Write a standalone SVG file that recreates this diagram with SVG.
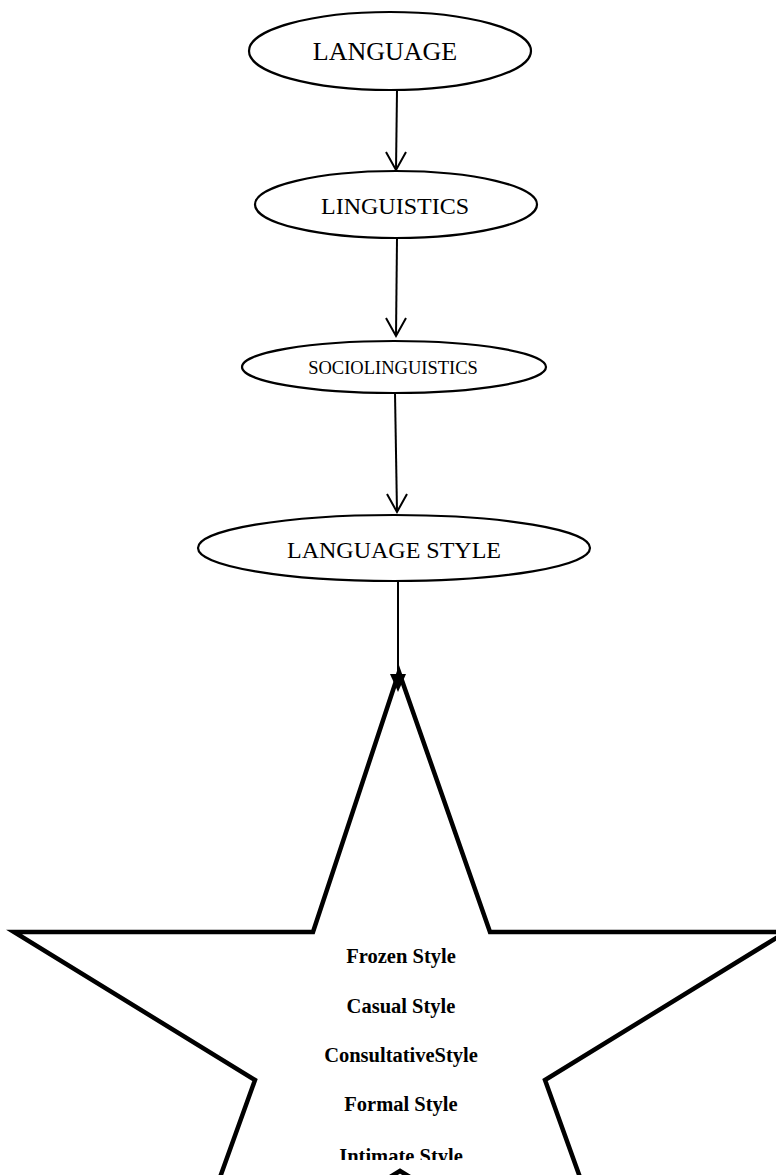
<svg xmlns="http://www.w3.org/2000/svg" width="776" height="1175" viewBox="0 0 776 1175">
<style>
.node ellipse{fill:#fff;stroke:#000;stroke-width:2.2}
.lbl{font-family:"Liberation Serif","Times New Roman",serif;fill:#000;text-anchor:middle}
.item{font-family:"Liberation Serif","Times New Roman",serif;font-weight:bold;font-size:20.5px;fill:#000;text-anchor:middle}
.conn line{stroke:#000;stroke-width:2}
.open{fill:none;stroke:#000;stroke-width:2}
</style>
<defs>
<clipPath id="starclip"><rect x="0" y="0" width="776" height="1160"/></clipPath>
</defs>
<rect width="776" height="1175" fill="#fff"/>
<g id="star">
<polygon points="399,672 490,932 786,932 545,1080 627,1308 400,1171 173,1308 255,1080 14,932 313,932" fill="#fff" stroke="#000" stroke-width="4.5" stroke-linejoin="miter"/>
<g clip-path="url(#starclip)">
<text class="item" x="401" y="963">Frozen Style</text>
<text class="item" x="401" y="1013">Casual Style</text>
<text class="item" x="401" y="1062">ConsultativeStyle</text>
<text class="item" x="401" y="1111">Formal Style</text>
<text class="item" x="401" y="1163">Intimate Style</text>
</g>
</g>
<g id="conn" class="conn">
<line x1="397" y1="90" x2="396" y2="170"/>
<polyline class="open" points="386,152 396,170 406,152"/>
<line x1="397" y1="238" x2="396" y2="336"/>
<polyline class="open" points="386,318 396,336 406,318"/>
<line x1="395" y1="393" x2="397" y2="512"/>
<polyline class="open" points="387,494 397,512 407,494"/>
<line x1="398" y1="582" x2="398" y2="676"/>
<polygon points="390,674 406,674 398,692" fill="#000"/>
</g>
<g id="n1" class="node">
<ellipse cx="390" cy="51" rx="141" ry="39"/>
<text class="lbl" x="385" y="60" font-size="26">LANGUAGE</text>
</g>
<g id="n2" class="node">
<ellipse cx="396" cy="204.5" rx="141" ry="33.5"/>
<text class="lbl" x="395" y="214" font-size="24">LINGUISTICS</text>
</g>
<g id="n3" class="node">
<ellipse cx="394" cy="367" rx="152" ry="26"/>
<text class="lbl" x="393" y="374" font-size="18.5">SOCIOLINGUISTICS</text>
</g>
<g id="n4" class="node">
<ellipse cx="394" cy="548" rx="196" ry="33"/>
<text class="lbl" x="394" y="558" font-size="24">LANGUAGE STYLE</text>
</g>
</svg>
